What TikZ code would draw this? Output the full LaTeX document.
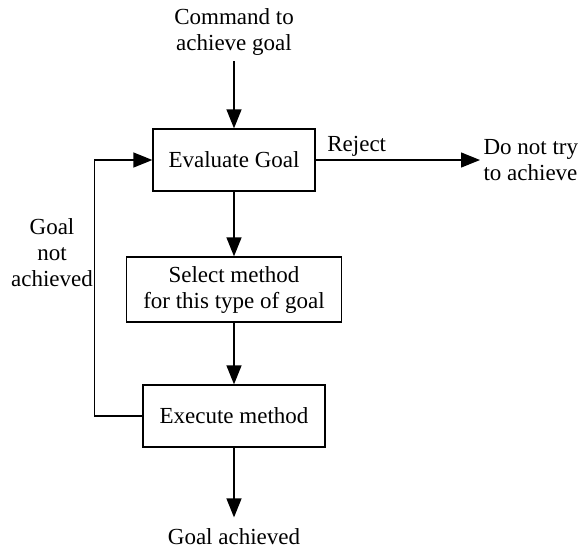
\documentclass[tikz,border=0pt]{standalone}
\usepackage{fontspec}
\setmainfont{Liberation Serif}
\usetikzlibrary{arrows.meta,positioning,calc}

\begin{document}
\begin{tikzpicture}[x=1pt, y=-1pt,
        every node/.style={font=\fontsize{23}{26}\selectfont},
        stepbox/.style={draw, line width=1.3pt, inner sep=0pt},
        arr/.style={line width=1.3pt, -{Triangle[length=19pt,width=15pt]}}]
        \useasboundingbox (0,0) rectangle (585,550);

        % the boxes
        \node[stepbox, minimum width=162pt, minimum height=62pt] (eval) at (234,160) {Evaluate Goal};
        \node[stepbox, minimum width=215pt, minimum height=65pt, align=center] (select) at (234,289.5) {Select method\\for this type of goal};
        \node[stepbox, minimum width=182pt, minimum height=62pt] (exec) at (234,416) {Execute method};

        % the texts round them
        \node[align=center] (cmd) at (234,32) {Command to\\achieve goal};
        \node[align=left, anchor=west] (dnt) at (480,160.5) {Do not try\\to achieve};
        \node (done) at (234,537) {Goal achieved};
        \node[align=center] (notdone) at (52,253) {Goal\\not\\achieved};

        % And the arrows
        \draw[arr, shorten <=2pt] (cmd) -- (eval);
        \draw[arr] (eval.east) -- node[above, pos=0.25] (reject) {Reject} (eval.east -| dnt.west);
        \draw[arr] (eval) -- (select);
        \draw[arr] (select) -- (exec);
        \draw[arr, shorten >=8pt] (exec) -- (done);
        \draw[arr] (exec.west) -- ++(-48,0) |- (eval.west);
      \end{tikzpicture}
\end{document}
